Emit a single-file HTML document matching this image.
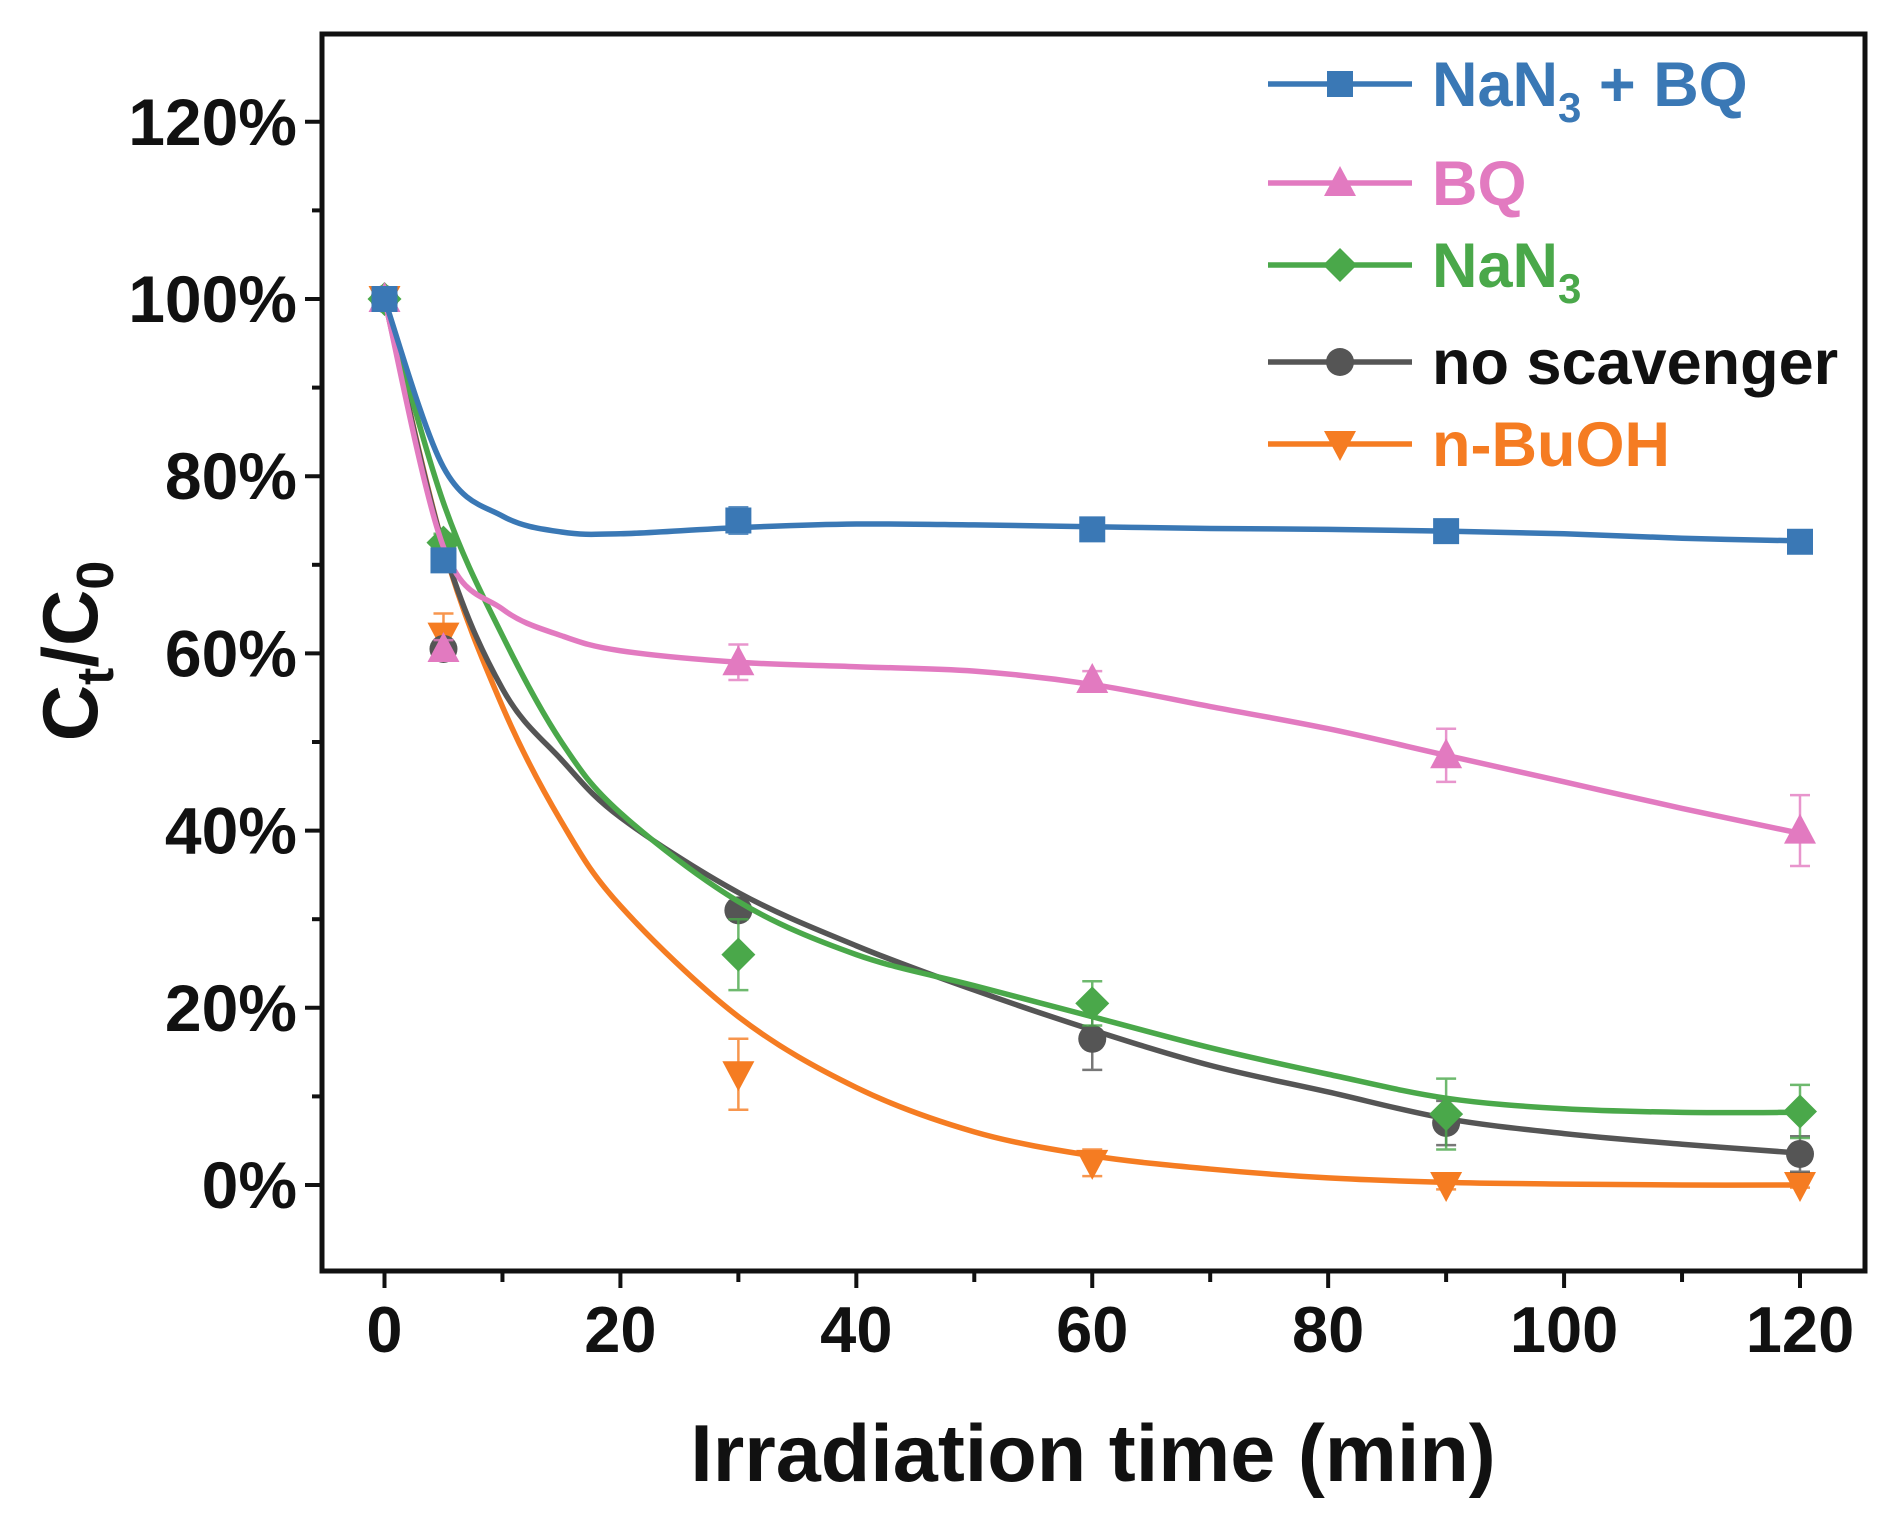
<!DOCTYPE html>
<html><head><meta charset="utf-8"><style>
html,body{margin:0;padding:0;background:#fff;}
svg{display:block;font-family:"Liberation Sans",Arial,sans-serif;font-weight:bold;}
</style></head><body>
<svg id="chart" width="1884" height="1513" viewBox="0 0 1884 1513" xmlns="http://www.w3.org/2000/svg">
<rect x="0" y="0" width="1884" height="1513" fill="#fff"/>
<g id="plot"></g>
<rect x="322" y="34" width="1543" height="1237" fill="none" stroke="#111" stroke-width="5"/>
<text x="1093" y="1481" font-size="81" text-anchor="middle" fill="#111">Irradiation time (min)</text>
<text transform="translate(97,651) rotate(-90)" font-size="78" text-anchor="middle" fill="#111">C<tspan font-size="52" dy="16">t</tspan><tspan dy="-16">/C</tspan><tspan font-size="52" dy="16">0</tspan></text>
</svg>
<script>
const xTicks=[0,20,40,60,80,100,120];
const yTicks=[0,20,40,60,80,100,120];
const times=[0,5,30,60,90,120];
const seriesNames=["NaN3 + BQ","BQ","NaN3","no scavenger","n-BuOH"];
const valNaBQ=[100,70.5,75,74,73.8,72.6];
const valBQ=[100,60.5,59,57,48.5,40];
const valNaN3=[100,72.5,26,20.5,8,8.3];
const valNone=[100,60.5,31,16.5,7,3.5];
const valBuOH=[100,62,12.5,2.5,0,0];
const errNaBQ=[0.5,1,1.5,0.8,0.8,0.8];
const errBQ=[0.5,1,2,1,3,4];
const errNaN3=[0.5,1,4,2.5,4,3];
const errNone=[0.5,1,1,3.5,2.5,2];
const errBuOH=[0.5,2.5,4,1.5,0.5,0.3];
const fitTimes=[0,5,10,15,20,30,40,50,60,70,80,90,100,110,120];
const fitNaBQ=[100,81,75.5,73.7,73.5,74.2,74.6,74.5,74.3,74.1,74,73.8,73.5,73,72.7];
const fitBQ=[100,72,65,62,60.3,59,58.5,58,56.5,54,51.5,48.5,45.5,42.5,39.7];
const fitNaN3=[100,77,62,50,42,32,26,22.5,19,15.5,12.5,9.8,8.6,8.2,8.2];
const fitNone=[100,72,56,48,41.5,33,27,22,17.5,13.5,10.5,7.5,5.8,4.6,3.6];
const fitBuOH=[100,72,54,41,31.5,19,11,6,3.3,1.8,0.8,0.3,0.1,0,0];

const NS="http://www.w3.org/2000/svg";
const X=t=>384.5+(t/120)*(1800-384.5);
const Y=v=>1185-(v/100)*(1185-299);
const g=document.getElementById('plot');
const svg=document.getElementById('chart');
function mk(tag,attrs,parent){const e=document.createElementNS(NS,tag);for(const k in attrs)e.setAttribute(k,attrs[k]);(parent||g).appendChild(e);return e;}

for(let t=0;t<=120;t+=10){
  const major=t%20===0;
  const tk=mk('line',{x1:X(t),x2:X(t),y1:1271,y2:major?1288:1282,stroke:'#111','stroke-width':4});
  
  
}
xTicks.forEach(t=>{
  const tx=mk('text',{x:X(t),y:1352,'font-size':65,'text-anchor':'middle',fill:'#111'},svg);
  tx.textContent=t;
  
  
});
for(let v=-10;v<=130;v+=10){
  const y=Y(v); if(y<36||y>1269) continue;
  const major=v%20===0;
  const tk=mk('line',{x1:major?305:312,x2:322,y1:y,y2:y,stroke:'#111','stroke-width':4});
  
  
}
yTicks.forEach(v=>{
  const tx=mk('text',{x:297,y:Y(v)+23,'font-size':66,'text-anchor':'end',fill:'#111'},svg);
  tx.textContent=v+'%';
  
  
});

function smooth(xs,ys){
  const p=xs.map((t,i)=>[X(t),Y(ys[i])]);
  let d=`M${p[0][0]},${p[0][1]}`;
  for(let i=0;i<p.length-1;i++){
    const p0=p[Math.max(0,i-1)],p1=p[i],p2=p[i+1],p3=p[Math.min(p.length-1,i+2)];
    const c1=[p1[0]+(p2[0]-p0[0])/6,p1[1]+(p2[1]-p0[1])/6];
    const c2=[p2[0]-(p3[0]-p1[0])/6,p2[1]-(p3[1]-p1[1])/6];
    d+=` C${c1[0]},${c1[1]} ${c2[0]},${c2[1]} ${p2[0]},${p2[1]}`;
  }
  return d;
}
function marker(shape,x,y,color,parent){
  let e;
  if(shape==='square') e=mk('rect',{x:x-13,y:y-13,width:26,height:26,fill:color},parent);
  else if(shape==='circle') e=mk('circle',{cx:x,cy:y,r:14,fill:color},parent);
  else if(shape==='up') e=mk('polygon',{points:`${x},${y-17} ${x+16},${y+13} ${x-16},${y+13}`,fill:color},parent);
  else if(shape==='down') e=mk('polygon',{points:`${x},${y+17} ${x+16},${y-13} ${x-16},${y-13}`,fill:color},parent);
  else e=mk('polygon',{points:`${x},${y-17} ${x+17},${y} ${x},${y+17} ${x-17},${y}`,fill:color},parent);
  return e;
}
const series=[
 {name:'nan3-bq',color:'#3a78b5',shape:'square',v:valNaBQ,e:errNaBQ,f:fitNaBQ},
 {name:'bq',color:'#e27ac0',shape:'up',v:valBQ,e:errBQ,f:fitBQ},
 {name:'nan3',color:'#4aa84a',shape:'diamond',v:valNaN3,e:errNaN3,f:fitNaN3},
 {name:'no-scavenger',color:'#555555',shape:'circle',v:valNone,e:errNone,f:fitNone},
 {name:'n-buoh',color:'#f57c22',shape:'down',v:valBuOH,e:errBuOH,f:fitBuOH}
];
series.slice().reverse().forEach(s=>{
  const sg=mk('g',{});
  
  
  const path=mk('path',{d:smooth(fitTimes,s.f),fill:'none',stroke:s.color,'stroke-width':5.5},sg);
  
  
  times.forEach((t,i)=>{
    const x=X(t),y1=Y(s.v[i]+s.e[i]),y2=Y(s.v[i]-s.e[i]);
    const eb=mk('path',{d:`M${x},${y1}V${y2}M${x-10},${y1}H${x+10}M${x-10},${y2}H${x+10}`,stroke:s.color,'stroke-width':2.5,fill:'none',opacity:0.8},sg);
    
    
    const m=marker(s.shape,x,Y(s.v[i]),s.color,sg);
    
    
  });
});
const legY=[84,183,265,362,444];
const legLabels=['NaN<tspan font-size="42" dy="16">3</tspan><tspan dy="-16"> + BQ</tspan>','BQ','NaN<tspan font-size="42" dy="16">3</tspan>','no scavenger','n-BuOH'];
const legColors=['#3a78b5','#e27ac0','#4aa84a','#111','#f57c22'];
series.forEach((s,i)=>{
  const lg=mk('g',{},svg);
  
  
  mk('line',{x1:1268,x2:1412,y1:legY[i],y2:legY[i],stroke:s.color,'stroke-width':5.5},lg);
  marker(s.shape,1340,legY[i],s.color,lg);
  const t=mk('text',{x:1432,y:legY[i]+22,'font-size':63,fill:legColors[i]},lg);
  t.innerHTML=legLabels[i];
});
</script>
</body></html>
